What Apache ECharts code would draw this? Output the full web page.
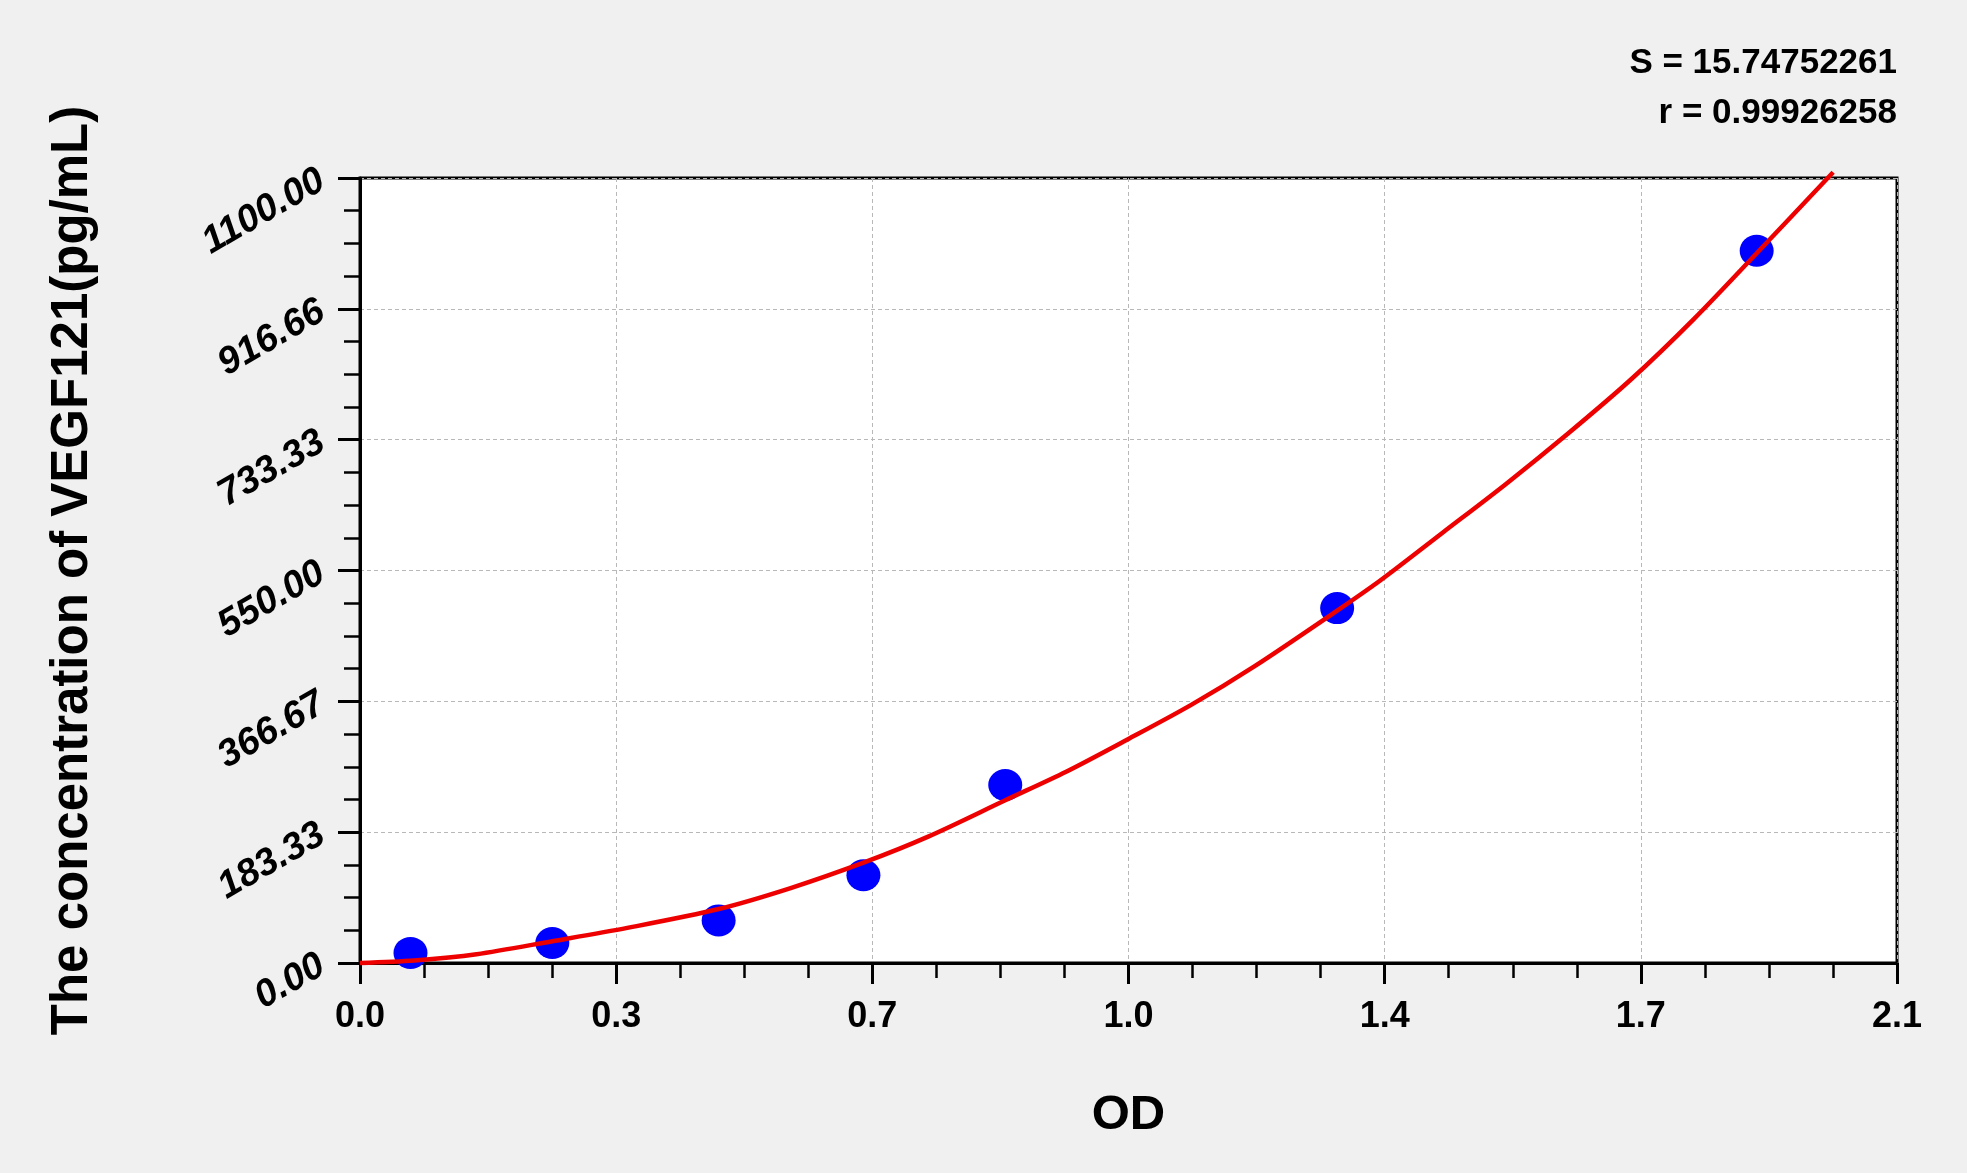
<!DOCTYPE html>
<html>
<head>
<meta charset="utf-8">
<script src="https://cdn.jsdelivr.net/npm/echarts@6/dist/echarts.min.js"></script>
<style>
html,body{margin:0;padding:0;background:#f0f0f0;}
#c{width:1967px;height:1173px;}
</style>
</head>
<body>
<div id="c"></div>
<script>
// Standard points (OD, concentration)
const pointOD = [0.068, 0.259, 0.483, 0.678, 0.869, 1.316, 1.881];
const pointConc = [14.1, 28.1, 59.7, 123, 249.5, 497.3, 998];

// Fitted curve
const curveOD = [0, 0.073, 0.157, 0.259, 0.360, 0.483, 0.580, 0.678, 0.766, 0.869, 0.951, 1.033, 1.120, 1.205, 1.316, 1.374, 1.458, 1.543, 1.627, 1.712, 1.796, 1.881, 1.984];
const curveConc = [0, 3.5, 12.3, 30.5, 49.2, 75.6, 105, 140.6, 177.5, 228, 268, 312.8, 362, 416, 493.8, 536, 603, 671, 742, 818, 902, 994.6, 1108];

// Tick labels
const xTickLabels = ['0.0', '0.3', '0.7', '1.0', '1.4', '1.7', '2.1'];
const yTickLabels = ['0.00', '183.33', '366.67', '550.00', '733.33', '916.66', '1100.00'];

const statText1 = 'S = 15.74752261';
const statText2 = 'r = 0.99926258';
const xTitle = 'OD';
const yTitle = 'The concentration of VEGF121(pg/mL)';

const X_MAX = 2.07;
const Y_MAX = 1100;
const xInterval = X_MAX / 6;
const yInterval = Y_MAX / 6;

const FONT = '"Liberation Sans", Arial, sans-serif';

const chart = echarts.init(document.getElementById('c'));

const option = {
  backgroundColor: '#f0f0f0',
  animation: false,
  grid: {
    left: 360, top: 178, right: 70, bottom: 210,
    show: true, backgroundColor: '#ffffff', borderColor: '#000', borderWidth: 3
  },
  graphic: [
    { type: 'text', right: 70, top: 46, style: { text: statText1, font: 'bold 35px ' + FONT, fill: '#000' } },
    { type: 'text', right: 70, top: 96, style: { text: statText2, font: 'bold 35px ' + FONT, fill: '#000' } }
  ],
  xAxis: {
    type: 'value', min: 0, max: X_MAX, interval: xInterval,
    name: xTitle, nameLocation: 'middle', nameGap: 128,
    nameTextStyle: { fontFamily: FONT, fontWeight: 'bold', fontSize: 49, color: '#000' },
    axisLine: { show: true, onZero: false, lineStyle: { color: '#000', width: 3 } },
    axisTick: { show: true, length: 21, lineStyle: { color: '#000', width: 3 } },
    minorTick: { show: true, splitNumber: 4, length: 15, lineStyle: { color: '#000', width: 2.5 } },
    axisLabel: {
      margin: 36, fontFamily: FONT, fontSize: 36, fontWeight: 'bold', color: '#000',
      showMaxLabel: true, showMinLabel: true,
      formatter: function (v) { return xTickLabels[Math.round(v / xInterval)]; }
    },
    splitLine: { show: true, lineStyle: { color: '#b8b8b8', width: 1, type: [4, 3] } },
    minorSplitLine: { show: false }
  },
  yAxis: {
    type: 'value', min: 0, max: Y_MAX, interval: yInterval,
    name: yTitle, nameLocation: 'middle', nameGap: 262,
    nameTextStyle: { fontFamily: FONT, fontWeight: 'bold', fontSize: 51, color: '#000' },
    axisLine: { show: true, onZero: false, lineStyle: { color: '#000', width: 3 } },
    axisTick: { show: true, length: 22, lineStyle: { color: '#000', width: 3 } },
    minorTick: { show: true, splitNumber: 4, length: 16, lineStyle: { color: '#000', width: 2.5 } },
    axisLabel: {
      margin: 38, rotate: 30, fontFamily: FONT, fontSize: 38, fontWeight: 'bold', fontStyle: 'italic', color: '#000',
      showMaxLabel: true, showMinLabel: true,
      formatter: function (v) { return yTickLabels[Math.round(v / yInterval)]; }
    },
    splitLine: { show: true, lineStyle: { color: '#b8b8b8', width: 1, type: [4, 3] } },
    minorSplitLine: { show: false }
  },
  series: [
    {
      type: 'scatter', z: 2,
      data: pointOD.map(function (x, i) { return [x, pointConc[i]]; }),
      symbol: 'circle', symbolSize: [34, 32],
      itemStyle: { color: '#0000ff', opacity: 1 }
    },
    {
      type: 'line', z: 3, clip: false,
      data: curveOD.map(function (x, i) { return [x, curveConc[i]]; }),
      showSymbol: false, smooth: 0.3,
      lineStyle: { color: '#ee0000', width: 4.5 }
    }
  ]
};
chart.setOption(option);
</script>
</body>
</html>
